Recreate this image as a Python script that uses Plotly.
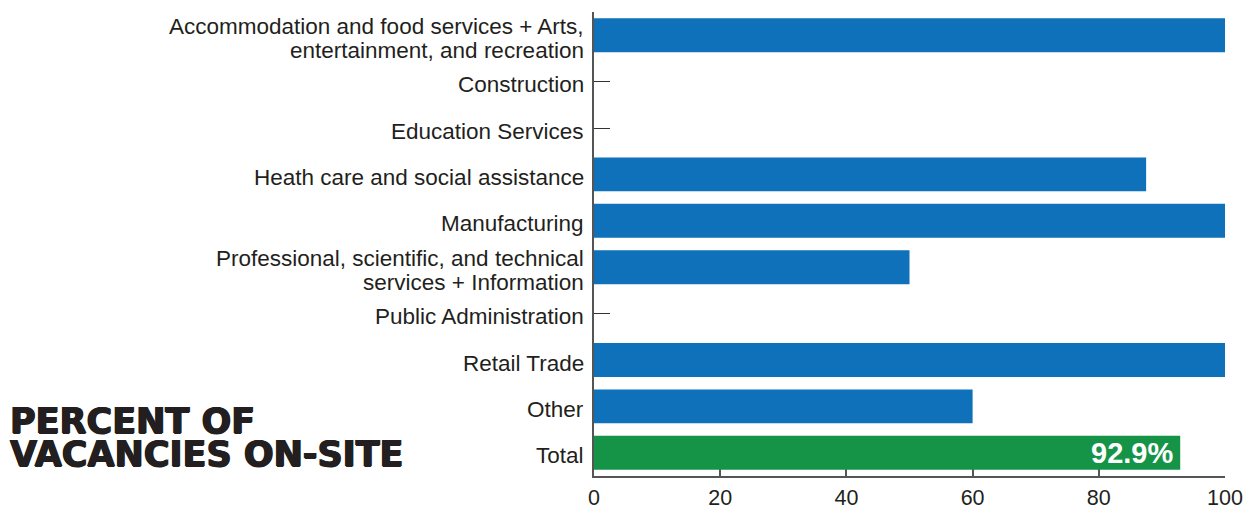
import plotly.graph_objects as go

categories = [
    "Accommodation and food services + Arts,<br>entertainment, and recreation",
    "Construction",
    "Education Services",
    "Heath care and social assistance",
    "Manufacturing",
    "Professional, scientific, and technical<br>services + Information",
    "Public Administration",
    "Retail Trade",
    "Other",
    "Total",
]
percent_onsite = [100, 0, 0, 87.5, 100, 50, 0, 100, 60, 92.9]
x_ticks = [0, 20, 40, 60, 80, 100]
heading_lines = ["PERCENT OF", "VACANCIES ON-SITE"]

BLUE = "#0e71b9"
GREEN = "#159448"
INK = "#231f20"

W, H = 1254, 508
ML, MR, MT, MB = 594, 29, 12, 32
plot_w = W - ML - MR
plot_h = H - MT - MB


def paper_x(px):
    return (px - ML) / plot_w


def paper_y(py):
    return (MT + plot_h - py) / plot_h


colors = [GREEN if c == "Total" else BLUE for c in categories]

fig = go.Figure(
    go.Bar(
        x=percent_onsite,
        y=categories,
        orientation="h",
        marker=dict(color=colors, line=dict(width=0)),
        hoverinfo="skip",
    )
)

fig.update_layout(
    width=W,
    height=H,
    margin=dict(l=ML, r=MR, t=MT, b=MB, pad=0),
    plot_bgcolor="white",
    paper_bgcolor="white",
    bargap=0.27,
    showlegend=False,
    font=dict(family="Liberation Sans", color=INK),
)

# Fixed (reversed) category range so the label annotations don't pad it
fig.update_yaxes(
    range=[len(categories) - 0.5, -0.5],
    autorange=False,
    automargin=False,
    showline=True,
    linecolor="#555555",
    linewidth=1.5,
    ticks="inside",
    ticklen=16,
    tickcolor="#333333",
    tickwidth=1,
    showticklabels=False,
    showgrid=False,
    layer="below traces",
)

fig.update_xaxes(
    range=[0, 100],
    automargin=False,
    tickvals=x_ticks,
    showline=True,
    linecolor="#555555",
    linewidth=1.5,
    ticks="inside",
    ticklen=8,
    tickcolor="#555555",
    tickwidth=1.5,
    tickfont=dict(family="Liberation Sans", size=21.5, color=INK),
    ticklabelstandoff=1,
    showgrid=False,
    zeroline=False,
    layer="below traces",
)

# Category labels, right-aligned against the axis with tight line spacing
LINE_PITCH = 24
for cat in categories:
    lines = cat.split("<br>")
    n = len(lines)
    for i, line in enumerate(lines):
        fig.add_annotation(
            text=line,
            xref="paper",
            yref="y",
            x=paper_x(586),
            y=cat,
            xanchor="right",
            yanchor="middle",
            yshift=((n - 1) / 2 - i) * LINE_PITCH - 3,
            showarrow=False,
            font=dict(family="Liberation Sans", size=22.5, color=INK),
        )

# Value label inside the end of the Total bar
total_value = percent_onsite[categories.index("Total")]
fig.add_annotation(
    text=f"{total_value:.1f}%",
    x=total_value,
    y="Total",
    xref="x",
    yref="y",
    xanchor="right",
    yanchor="middle",
    xshift=-5,
    showarrow=False,
    font=dict(family="Liberation Sans", size=29, color="white", weight="bold"),
)

# Heavy two-line heading at the lower left of the canvas
for line, cy in zip(heading_lines, [421, 454]):
    fig.add_annotation(
        text=line,
        xref="paper",
        yref="paper",
        x=paper_x(8),
        y=paper_y(cy),
        xanchor="left",
        yanchor="middle",
        showarrow=False,
        font=dict(
            family="DejaVu Sans",
            size=35,
            color=INK,
            weight="bold",
            shadow="0.8px 0 0 #231f20, -0.8px 0 0 #231f20, 0 0.6px 0 #231f20",
        ),
    )

fig.write_html("out.html")
